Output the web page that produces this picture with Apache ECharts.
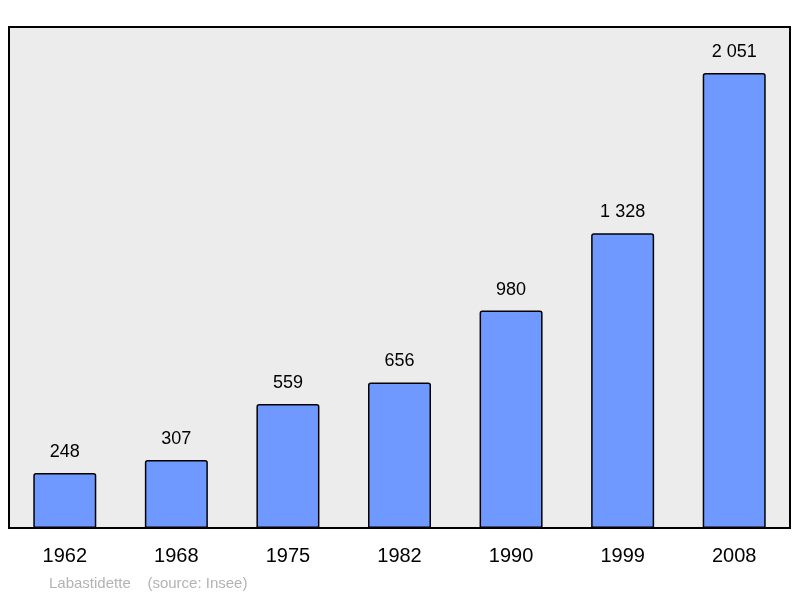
<!DOCTYPE html>
<html>
<head>
<meta charset="utf-8">
<script src="https://cdn.jsdelivr.net/npm/echarts@6/dist/echarts.min.js"></script>
<style>html,body{margin:0;padding:0;background:#fff;}#chart{width:800px;height:598px;}</style>
</head>
<body>
<div id="chart"></div>
<script>
const years = ['1962', '1968', '1975', '1982', '1990', '1999', '2008'];
const population = [248, 307, 559, 656, 980, 1328, 2051];
const footer = 'Labastidette    (source: Insee)';

const chart = echarts.init(document.getElementById('chart'));
const fmt = v => String(v).replace(/\B(?=(\d{3})+(?!\d))/g, ' ');
chart.setOption({
    animation: false,
    grid: {
        left: 9, right: 10, top: 27, bottom: 70,
        show: true,
        backgroundColor: '#ececec',
        borderColor: '#000',
        borderWidth: 2
    },
    xAxis: {
        type: 'category',
        data: years,
        axisLine: { show: false },
        axisTick: { show: false },
        axisLabel: { fontSize: 20, color: '#000', margin: 18, fontFamily: 'Liberation Sans' }
    },
    yAxis: {
        type: 'value',
        min: 0,
        max: 2258,
        show: false,
        splitLine: { show: false }
    },
    series: [{
        type: 'bar',
        data: population,
        barWidth: 63,
        itemStyle: {
            color: '#7099ff',
            borderColor: '#000',
            borderWidth: 1.5,
            borderRadius: [2, 2, 0, 0]
        },
        label: {
            show: true,
            position: 'top',
            distance: 12,
            fontSize: 18,
            color: '#000',
            fontFamily: 'Liberation Sans',
            formatter: p => fmt(p.value)
        }
    }],
    graphic: [{
        type: 'text',
        left: 49,
        top: 576,
        style: { text: footer, fontSize: 15, fill: '#b3b3b3', fontFamily: 'Liberation Sans' }
    }]
});
</script>
</body>
</html>
